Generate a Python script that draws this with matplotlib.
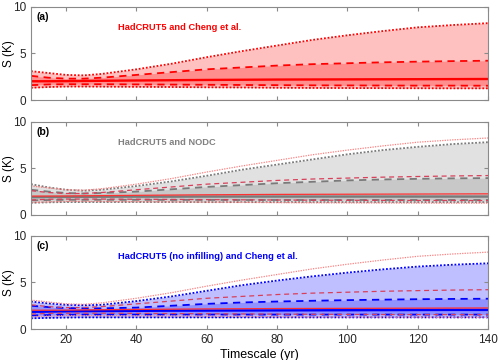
"""
Spread S (K) of estimates versus timescale for three data-set pairs.
Output: out.png
"""

import matplotlib.pyplot as plt
import numpy as np

plt.rcParams["font.family"] = ["Liberation Sans", "DejaVu Sans"]

# timescale (yr)
years = [10, 15, 20, 25, 30, 40, 50, 60, 70, 80, 90, 100, 110, 120, 130, 140]

# HadCRUT5 and Cheng et al. (red)
red_hi = [3.1, 2.9, 2.7, 2.65, 2.8, 3.3, 3.9, 4.6, 5.25, 5.85, 6.45, 6.95, 7.4, 7.8, 8.05, 8.25]
red_q_hi = [2.6, 2.4, 2.3, 2.3, 2.4, 2.7, 3.0, 3.3, 3.5, 3.7, 3.85, 3.95, 4.05, 4.12, 4.18, 4.22]
red_mid = [2.02, 2.02, 2.03, 2.05, 2.07, 2.1, 2.13, 2.16, 2.18, 2.2, 2.21, 2.22, 2.23, 2.24, 2.25, 2.26]
red_q_lo = [1.6, 1.68, 1.7, 1.7, 1.7, 1.68, 1.66, 1.64, 1.62, 1.6, 1.58, 1.57, 1.56, 1.55, 1.55, 1.54]
red_lo = [1.32, 1.4, 1.45, 1.45, 1.44, 1.42, 1.4, 1.37, 1.35, 1.32, 1.3, 1.29, 1.28, 1.27, 1.26, 1.26]

# HadCRUT5 and NODC (grey)
grey_hi = [3.3, 2.95, 2.7, 2.6, 2.7, 3.1, 3.6, 4.2, 4.85, 5.4, 5.95, 6.5, 6.95, 7.3, 7.6, 7.8]
grey_q_hi = [2.7, 2.5, 2.35, 2.3, 2.35, 2.5, 2.75, 3.0, 3.2, 3.4, 3.55, 3.7, 3.8, 3.87, 3.92, 3.95]
grey_mid = [1.9, 1.92, 1.93, 1.94, 1.95, 1.96, 1.96, 1.97, 1.97, 1.97, 1.97, 1.97, 1.97, 1.97, 1.97, 1.97]
grey_q_lo = [1.55, 1.6, 1.62, 1.62, 1.62, 1.62, 1.61, 1.61, 1.6, 1.6, 1.6, 1.6, 1.6, 1.6, 1.6, 1.6]
grey_lo = [1.3, 1.35, 1.38, 1.38, 1.38, 1.38, 1.38, 1.37, 1.37, 1.37, 1.37, 1.37, 1.37, 1.37, 1.37, 1.37]

# HadCRUT5 (no infilling) and Cheng et al. (blue)
blue_hi = [2.95, 2.75, 2.6, 2.55, 2.6, 3.0, 3.5, 4.1, 4.7, 5.2, 5.65, 6.05, 6.4, 6.7, 6.9, 7.05]
blue_q_hi = [2.5, 2.35, 2.25, 2.22, 2.22, 2.3, 2.5, 2.7, 2.85, 2.95, 3.03, 3.1, 3.15, 3.2, 3.23, 3.25]
blue_mid = [1.85, 1.87, 1.9, 1.92, 1.93, 1.95, 1.97, 1.98, 1.99, 2.0, 2.01, 2.02, 2.03, 2.04, 2.05, 2.05]
blue_q_lo = [1.45, 1.5, 1.53, 1.55, 1.55, 1.55, 1.55, 1.55, 1.55, 1.55, 1.55, 1.55, 1.55, 1.55, 1.55, 1.55]
blue_lo = [1.15, 1.2, 1.23, 1.25, 1.25, 1.25, 1.25, 1.25, 1.25, 1.25, 1.25, 1.25, 1.25, 1.25, 1.25, 1.25]

panels = [
    ("(a)", "HadCRUT5 and Cheng et al.", "#ff0000",
     (red_hi, red_q_hi, red_mid, red_q_lo, red_lo), "#ffc0c0", "#ff8e8e", "#ff0000"),
    ("(b)", "HadCRUT5 and NODC", "#808080",
     (grey_hi, grey_q_hi, grey_mid, grey_q_lo, grey_lo), "#e1e1e1", "#c8c8c8", "#7a7a7a"),
    ("(c)", "HadCRUT5 (no infilling) and Cheng et al.", "#0000ff",
     (blue_hi, blue_q_hi, blue_mid, blue_q_lo, blue_lo), "#bfbfff", "#9292ff", "#0000ff"),
]

DASH = (0, (4, 3))
DOT = (0, (1, 1))
AXIS_GREY = "#8a8a8a"

fig = plt.figure(figsize=(5.0, 3.6), dpi=100)
axes = [fig.add_axes([0.062, b, 0.914, 0.259]) for b in (0.722, 0.403, 0.086)]

for ax, (tag, title, tcol, curves, light, mid, lcol) in zip(axes, panels):
    hi, q_hi, med, q_lo, lo = curves
    ax.fill_between(years, lo, hi, color=light, lw=0)
    ax.fill_between(years, q_lo, q_hi, color=mid, lw=0)
    ax.plot(years, hi, color=lcol, lw=1.3, ls=DOT)
    ax.plot(years, lo, color=lcol, lw=1.3, ls=DOT)
    ax.plot(years, q_hi, color=lcol, lw=1.3, ls=DASH)
    ax.plot(years, q_lo, color=lcol, lw=1.3, ls=DASH)
    ax.plot(years, med, color=lcol, lw=1.7)

    # reference (panel a) lines on the other panels
    if tag != "(a)":
        ax.plot(years, red_hi, color="#ff8080", lw=0.9, ls=DOT)
        ax.plot(years, red_lo, color="#ff8080", lw=0.9, ls=DOT)
        ax.plot(years, red_q_hi, color="#d8405a", lw=0.9, ls=DASH)
        ax.plot(years, red_q_lo, color="#d8405a", lw=0.9, ls=DASH)
        ax.plot(years, red_mid, color="#ff3030", lw=0.9)

    ax.set_xlim(10, 140)
    ax.set_ylim(0, 10)
    ax.set_yticks([0, 5, 10])
    ax.set_xticks([20, 40, 60, 80, 100, 120, 140])
    ax.tick_params(direction="in", top=True, right=True, length=3,
                   color=AXIS_GREY, labelsize=8.5, labelcolor="#262626")
    for s in ax.spines.values():
        s.set_color(AXIS_GREY)
        s.set_linewidth(0.8)
    ax.set_ylabel("S (K)", fontsize=8.5)
    ax.yaxis.set_label_coords(-0.036, 0.5)
    ax.text(0.012, 0.94, tag, transform=ax.transAxes, fontsize=7.5,
            fontweight="bold", ha="left", va="top")
    ax.text(0.19, 0.78, title, transform=ax.transAxes, fontsize=6.7,
            fontweight="bold", color=tcol, ha="left", va="center")
    if tag != "(c)":
        ax.set_xticklabels([])

axes[-1].set_xlabel("Timescale (yr)", fontsize=9, labelpad=2)

fig.savefig("out.png", dpi=100)
plt.close(fig)
